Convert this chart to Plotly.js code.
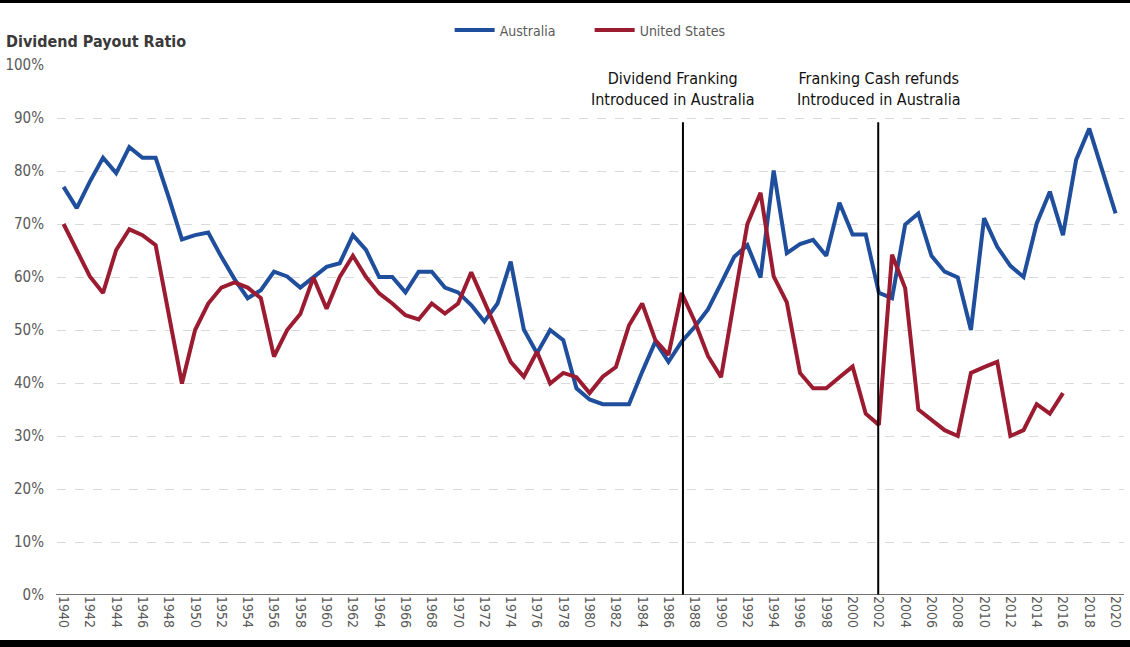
<!DOCTYPE html>
<html>
<head>
<meta charset="utf-8">
<script src="https://cdn.plot.ly/plotly-3.0.1.min.js"></script>
<style>
html,body{margin:0;padding:0;background:#fff;}
#chart{width:1130px;height:647px;}
</style>
</head>
<body>
<div id="chart"></div>
<script>
const years = [];
for (let y = 1940; y <= 2020; y++) years.push(y);

const australia = [77.0, 73.0, 78.0, 82.5, 79.6, 84.5, 82.5, 82.5, 75.0, 67.1,
  67.9, 68.4, 63.8, 59.6, 56.0, 57.5, 61.0, 60.1, 58.0, 59.9,
  61.9, 62.6, 67.9, 65.1, 60.0, 60.0, 57.1, 61.0, 61.0, 58.0,
  57.1, 54.7, 51.6, 55.0, 62.9, 50.1, 45.6, 50.0, 48.1, 39.0,
  36.9, 36.0, 36.0, 36.0, 42.1, 47.8, 44.0, 47.8, 50.6, 53.9,
  58.8, 63.8, 66.0, 59.9, 80.1, 64.5, 66.2, 67.0, 64.0, 74.0,
  68.0, 68.0, 57.0, 56.0, 69.9, 72.0, 64.0, 61.0, 59.9, 50.0,
  71.1, 65.7, 62.1, 60.0, 70.1, 76.1, 67.9, 82.1, 88.0, 79.9,
  72.0];

const unitedStates = [70.0, 65.0, 60.1, 57.0, 65.1, 69.0, 67.9, 66.0, 53.1, 39.9,
  50.0, 55.0, 58.0, 59.0, 58.0, 56.0, 45.0, 50.0, 53.0, 59.9,
  54.0, 60.0, 64.0, 60.0, 56.9, 55.0, 52.8, 52.0, 55.0, 53.1,
  55.0, 60.9, 55.3, 49.7, 44.0, 41.2, 45.9, 39.9, 41.9, 41.1,
  38.1, 41.2, 43.0, 50.9, 55.0, 48.1, 45.3, 57.0, 51.6, 45.1,
  41.1, 55.7, 70.0, 75.9, 60.1, 55.2, 41.9, 39.0, 39.0, 41.1,
  43.1, 34.2, 32.1, 64.2, 57.9, 35.0, 33.0, 31.1, 30.0, 41.9,
  43.0, 44.0, 30.0, 31.1, 36.0, 34.2, 38.1, null, null, null,
  null];

const seriesNames = ["Australia", "United States"];
const tickYears = [];
for (let y = 1940; y <= 2020; y += 2) tickYears.push(y);
const yTicks = [0, 10, 20, 30, 40, 50, 60, 70, 80, 90, 100];
const yTickLabels = yTicks.map(v => v + "%");

const events = [1987.1, 2001.95];
const eventTop = 89.2;
const eventLabelX = [1986.3, 2001.95];
const eventLabels = ["Dividend Franking<br>Introduced in Australia", "Franking Cash refunds<br>Introduced in Australia"];

const FONT = '"Liberation Sans Narrow", "DejaVu Sans Condensed", "Roboto", sans-serif';

const traces = [
  {x: years, y: australia, name: seriesNames[0], type: "scatter", mode: "lines",
   line: {color: "#1f4e9c", width: 4}},
  {x: years, y: unitedStates, name: seriesNames[1], type: "scatter", mode: "lines",
   line: {color: "#9b1b30", width: 4}, connectgaps: false}
];

const shapes = events.map(e => ({type: "line", xref: "x", yref: "y", x0: e, x1: e, y0: 0, y1: eventTop,
  line: {color: "#000", width: 2}}));
// axis line at 0%
shapes.push({type: "line", xref: "paper", yref: "y", x0: -0.001, x1: 1, y0: 0, y1: 0, line: {color: "#404040", width: 1.5}});
// black frame bars at top and bottom of the image
shapes.push({type: "rect", xref: "paper", yref: "paper", x0: -0.06, x1: 1.01, y0: 1.117, y1: 1.13, line: {width: 0}, fillcolor: "#000", layer: "above"});
shapes.push({type: "rect", xref: "paper", yref: "paper", x0: -0.06, x1: 1.01, y0: -0.11, y1: -0.085, line: {width: 0}, fillcolor: "#000", layer: "above"});

const annotations = events.map((e, i) => ({
  x: eventLabelX[i], y: 91.3, xref: "x", yref: "y", text: eventLabels[i], showarrow: false,
  xanchor: "center", yanchor: "bottom", align: "center",
  font: {family: FONT, size: 16, color: "#111"}
}));
annotations.push({
  text: "<b>Dividend Payout Ratio</b>", xref: "paper", yref: "paper", x: -0.05, y: 1.0,
  xanchor: "left", yanchor: "bottom", showarrow: false, yshift: 12,
  font: {family: FONT, size: 16, color: "#3a3a3a"}
});

const layout = {
  width: 1130, height: 647,
  paper_bgcolor: "#fff", plot_bgcolor: "#fff",
  margin: {l: 57, r: 6, t: 65, b: 52},
  font: {family: FONT, color: "#595959", size: 14},
  showlegend: true,
  legend: {orientation: "h", x: 0.368, xanchor: "left", y: 1.035, yanchor: "bottom",
    itemwidth: 40, entrywidth: 85, entrywidthmode: "pixels",
    font: {family: FONT, size: 14, color: "#595959"}, traceorder: "normal", bgcolor: "rgba(0,0,0,0)"},
  xaxis: {range: [1939.5, 2020.64], tickmode: "array", tickvals: tickYears, ticktext: tickYears.map(String),
    tickangle: 90, showgrid: false, zeroline: false, showline: false, ticks: "",
    tickfont: {family: FONT, size: 14, color: "#595959"}},
  yaxis: {range: [0, 100], tickmode: "array", tickvals: yTicks, ticktext: yTickLabels,
    showgrid: true, gridcolor: "#d9d9d9", griddash: "dash", gridwidth: 1, zeroline: false,
    showline: false, ticks: "", ticklabelstandoff: 12,
    tickfont: {family: FONT, size: 15, color: "#595959"}},
  shapes: shapes,
  annotations: annotations
};

Plotly.newPlot("chart", traces, layout, {displayModeBar: false, staticPlot: true});
</script>
</body>
</html>
